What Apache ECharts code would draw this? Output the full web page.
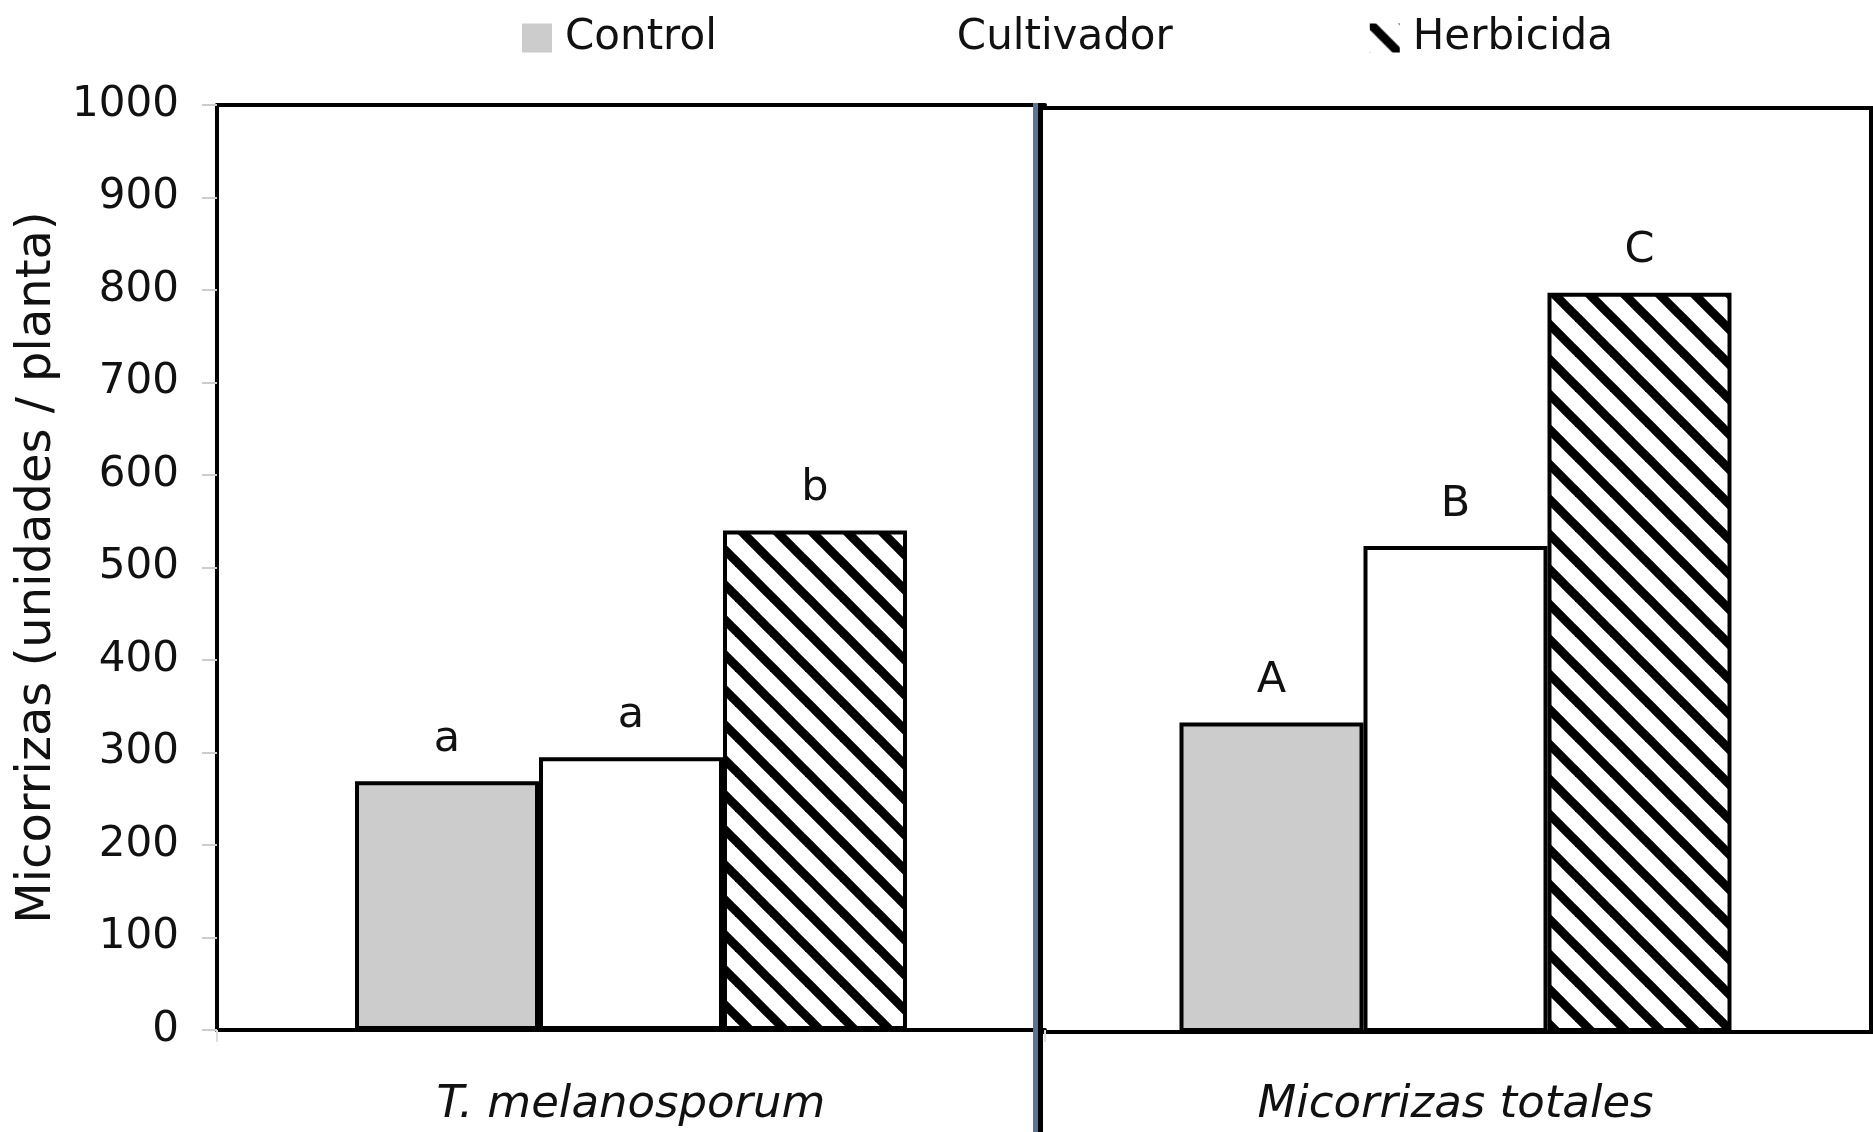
<!DOCTYPE html>
<html>
<head>
<meta charset="utf-8">
<script src="https://cdn.jsdelivr.net/npm/echarts@6/dist/echarts.min.js"></script>
<style>
  html, body { margin: 0; padding: 0; background: #fff; }
  #chart { width: 1873px; height: 1132px; }
</style>
</head>
<body>
<div id="chart"></div>
<script>
// datos
const categories = ['T. melanosporum', 'Micorrizas totales']
const seriesNames = ['Control', 'Cultivador', 'Herbicida']
const control = [269, 335]
const cultivador = [295, 526]
const herbicida = [540, 800]
const controlLetters = ['a', 'A']
const cultivadorLetters = ['a', 'B']
const herbicidaLetters = ['b', 'C']
const yMin = 0
const yMax = 1000
const yStep = 100

const FONT = 'DejaVu Sans'

// trama diagonal para Herbicida
function hatch() {
  const s = 35
  const c = document.createElement('canvas')
  c.width = s
  c.height = s
  const g = c.getContext('2d')
  g.fillStyle = '#fff'
  g.fillRect(0, 0, s, s)
  g.strokeStyle = '#000'
  g.lineWidth = 9
  ;[-1, 0, 1].forEach(k => {
    g.beginPath()
    g.moveTo(k * s - s, -s)
    g.lineTo(k * s + 2 * s, 2 * s)
    g.stroke()
  })
  return c
}

const fills = ['#cccccc', '#ffffff', { image: hatch(), repeat: 'repeat' }]
const values = [control, cultivador, herbicida]
const letters = [controlLetters, cultivadorLetters, herbicidaLetters]

const chart = echarts.init(document.getElementById('chart'))

const series = []
;[0, 1].forEach(panel => {
  seriesNames.forEach((name, i) => {
    series.push({
      name: name,
      type: 'bar',
      xAxisIndex: panel,
      yAxisIndex: panel,
      barWidth: 184,
      barGap: '0%',
      data: [values[i][panel]],
      itemStyle: { color: fills[i], borderColor: '#000', borderWidth: 4 },
      label: {
        show: true,
        position: 'top',
        distance: 20,
        fontFamily: FONT,
        fontSize: 43,
        color: '#111',
        formatter: () => letters[i][panel]
      }
    })
  })
})

chart.setOption({
  animation: false,
  backgroundColor: '#fff',
  legend: {
    data: seriesNames,
    icon: 'rect',
    left: 517,
    top: 12,
    itemWidth: 30,
    itemHeight: 29,
    itemGap: 197,
    itemStyle: { borderWidth: 0 },
    textStyle: { fontFamily: FONT, fontSize: 42, color: '#111', padding: [0, 0, 0, 8] }
  },
  grid: [
    { left: 217, top: 105, width: 828, height: 925, show: false },
    { left: 1040, top: 108, width: 831, height: 924, show: true, borderColor: '#000', borderWidth: 4 }
  ],
  xAxis: [
    {
      type: 'category', gridIndex: 0, data: [categories[0]],
      axisLine: { lineStyle: { color: '#000', width: 4 } },
      axisTick: { show: true, length: 12, lineStyle: { color: '#ddd', width: 2 } },
      axisLabel: { margin: 53, fontFamily: FONT, fontStyle: 'italic', fontSize: 45, color: '#111' }
    },
    {
      type: 'category', gridIndex: 1, data: [categories[1]],
      axisLine: { lineStyle: { color: '#000', width: 4 } },
      axisTick: { show: false },
      axisLabel: { margin: 51, fontFamily: FONT, fontStyle: 'italic', fontSize: 45, color: '#111' }
    },
    {
      type: 'category', gridIndex: 0, position: 'top', data: [categories[0]],
      axisLine: { lineStyle: { color: '#000', width: 4 } },
      axisTick: { show: false },
      axisLabel: { show: false }
    }
  ],
  yAxis: [
    {
      type: 'value', gridIndex: 0, min: yMin, max: yMax, interval: yStep,
      name: 'Micorrizas (unidades / planta)',
      nameLocation: 'middle',
      nameGap: 155,
      nameTextStyle: { fontFamily: FONT, fontSize: 48, color: '#111' },
      axisLine: { show: true, lineStyle: { color: '#000', width: 4 } },
      axisTick: { show: true, length: 15, lineStyle: { color: '#ccc', width: 2 } },
      axisLabel: { margin: 38, fontFamily: FONT, fontSize: 42, color: '#111', formatter: v => String(v) },
      splitLine: { show: false }
    },
    {
      type: 'value', gridIndex: 1, min: yMin, max: yMax, interval: yStep,
      axisLine: { show: true, lineStyle: { color: '#000', width: 4 } },
      axisTick: { show: false },
      axisLabel: { show: false },
      splitLine: { show: false }
    }
  ],
  graphic: [
    { type: 'rect', z: 100, shape: { x: 1033, y: 103, width: 5, height: 1029 }, style: { fill: '#5a7396' } },
    { type: 'rect', z: 100, shape: { x: 1038, y: 106, width: 5, height: 1026 }, style: { fill: '#000' } }
  ],
  series: series
})
</script>
</body>
</html>
